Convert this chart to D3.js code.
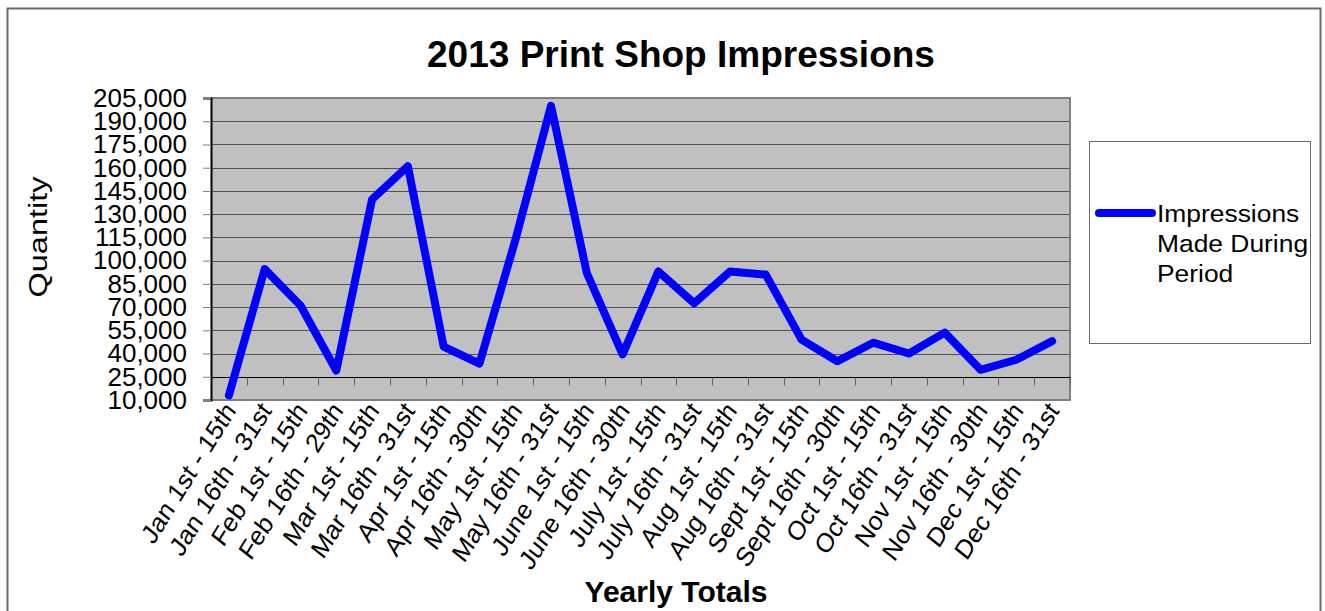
<!DOCTYPE html>
<html>
<head>
<meta charset="utf-8">
<script src="https://cdn.jsdelivr.net/npm/d3@7"></script>
<style>
  html, body { margin: 0; padding: 0; background: #fff; }
  svg { display: block; }
  text { font-family: "Liberation Sans", Arial, Helvetica, sans-serif; fill: #000; }
</style>
</head>
<body>
<svg id="chart" width="1325" height="611"></svg>
<script>
// Half-month reporting periods for 2013
const periods = [
  "Jan 1st - 15th", "Jan 16th - 31st", "Feb 1st - 15th", "Feb 16th - 29th",
  "Mar 1st - 15th", "Mar 16th - 31st", "Apr 1st - 15th", "Apr 16th - 30th",
  "May 1st - 15th", "May 16th - 31st", "June 1st - 15th", "June 16th - 30th",
  "July 1st - 15th", "July 16th - 31st", "Aug 1st - 15th", "Aug 16th - 31st",
  "Sept 1st - 15th", "Sept 16th - 30th", "Oct 1st - 15th", "Oct 16th - 31st",
  "Nov 1st - 15th", "Nov 16th - 30th", "Dec 1st - 15th", "Dec 16th - 31st"
];

// Impressions made during each period
const impressions = [
  13000, 94500, 71000, 29000, 139500, 161000, 44500, 33500,
  113000, 200000, 92000, 39500, 93000, 72500, 93000, 91000,
  49000, 35000, 47000, 40000, 53500, 29500, 36000, 48000
];

// Value axis ticks
const yTicks = [10000, 25000, 40000, 55000, 70000, 85000, 100000, 115000,
  130000, 145000, 160000, 175000, 190000, 205000];

const chartTitle = "2013 Print Shop Impressions";
const xTitle = "Yearly Totals";
const yTitle = "Quantity";
const seriesName = ["Impressions", "Made During", "Period"];

const svg = d3.select("#chart");
const plot = { left: 211, right: 1070, top: 98, bottom: 400 };

const x = d3.scaleBand().domain(periods).range([plot.left, plot.right]).padding(0);
const y = d3.scaleLinear().domain([10000, 205000]).range([plot.bottom, plot.top]);
const fmt = d3.format(",");

// outer chart frame
svg.append("rect")
  .attr("x", 7.5).attr("y", 8.5).attr("width", 1313).attr("height", 620)
  .attr("fill", "#fff").attr("stroke", "#6a6a6a").attr("stroke-width", 2);

// plot area background
svg.append("rect")
  .attr("x", plot.left).attr("y", plot.top)
  .attr("width", plot.right - plot.left).attr("height", plot.bottom - plot.top)
  .attr("fill", "#c0c0c0");

// horizontal gridlines
svg.append("g").selectAll("line")
  .data(yTicks.filter(d => d > 25000 && d < 205000))
  .join("line")
  .attr("x1", plot.left).attr("x2", plot.right)
  .attr("y1", d => Math.round(y(d)) + 0.5).attr("y2", d => Math.round(y(d)) + 0.5)
  .attr("stroke", "#505050").attr("stroke-width", 1);

// plot border (top, right, bottom)
svg.append("path")
  .attr("d", `M${plot.left},${plot.top} H${plot.right} V${plot.bottom} H${plot.left}`)
  .attr("fill", "none").attr("stroke", "#808080").attr("stroke-width", 2);

// value axis
const yAxis = d3.axisLeft(y).tickValues(yTicks).tickFormat(fmt).tickSize(8).tickPadding(16);
const yg = svg.append("g").attr("transform", `translate(${plot.left},0)`).call(yAxis);
yg.select(".domain").attr("stroke", "#000").attr("stroke-width", 2);
yg.selectAll(".tick line").attr("stroke", "#808080");
yg.selectAll(".tick text")
  .style("font-family", "'Liberation Sans', Arial, sans-serif")
  .style("font-size", "26px").attr("fill", "#000");

// category axis crossing at 25,000
const axisY = Math.round(y(25000)) + 0.5;
const xg = svg.append("g").attr("transform", `translate(0,${axisY})`);
xg.append("line")
  .attr("x1", plot.left).attr("x2", plot.right)
  .attr("stroke", "#000").attr("stroke-width", 1);
const boundaries = periods.slice(1).map(p => x(p)).concat([plot.right]);
xg.selectAll("line.tick")
  .data(boundaries)
  .join("line").attr("class", "tick")
  .attr("x1", d => Math.round(d) + 0.5).attr("x2", d => Math.round(d) + 0.5)
  .attr("y1", 0).attr("y2", 8)
  .attr("stroke", "#606060");

// category labels, slanted
svg.append("g").selectAll("text")
  .data(periods)
  .join("text")
  .attr("transform", d => `translate(${x(d) + x.bandwidth() / 2 + 8},${plot.bottom + 11}) scale(1,1.13) rotate(-55)`)
  .attr("text-anchor", "end")
  .style("font-size", "24px")
  .text(d => d);

// series line
const line = d3.line()
  .x((d, i) => x(periods[i]) + x.bandwidth() / 2)
  .y(d => y(d));
svg.append("path")
  .datum(impressions)
  .attr("d", line)
  .attr("fill", "none")
  .attr("stroke", "#0000ff")
  .attr("stroke-width", 8)
  .attr("stroke-linejoin", "round")
  .attr("stroke-linecap", "round");

// titles
svg.append("text")
  .attr("x", 681).attr("y", 67)
  .attr("text-anchor", "middle")
  .style("font-size", "37px").style("font-weight", "bold")
  .text(chartTitle);

svg.append("text")
  .attr("x", 676).attr("y", 602)
  .attr("text-anchor", "middle")
  .style("font-size", "30px").style("font-weight", "bold")
  .text(xTitle);

svg.append("text")
  .attr("transform", "translate(47,237) scale(1,1.3) rotate(-90)")
  .attr("text-anchor", "middle")
  .style("font-size", "25px")
  .text(yTitle);

// legend
const lg = svg.append("g");
lg.append("rect")
  .attr("x", 1089.5).attr("y", 141.5).attr("width", 221).attr("height", 202)
  .attr("fill", "#fff").attr("stroke", "#6a6a6a").attr("stroke-width", 1);
lg.append("line")
  .attr("x1", 1099).attr("x2", 1152).attr("y1", 213).attr("y2", 213)
  .attr("stroke", "#0000ff").attr("stroke-width", 8).attr("stroke-linecap", "round");
lg.append("text")
  .attr("transform", "translate(1157,0) scale(1.1,1)")
  .style("font-size", "24px")
  .selectAll("tspan")
  .data(seriesName)
  .join("tspan")
  .attr("x", 0).attr("y", (d, i) => 222 + i * 30)
  .text(d => d);
</script>
</body>
</html>
